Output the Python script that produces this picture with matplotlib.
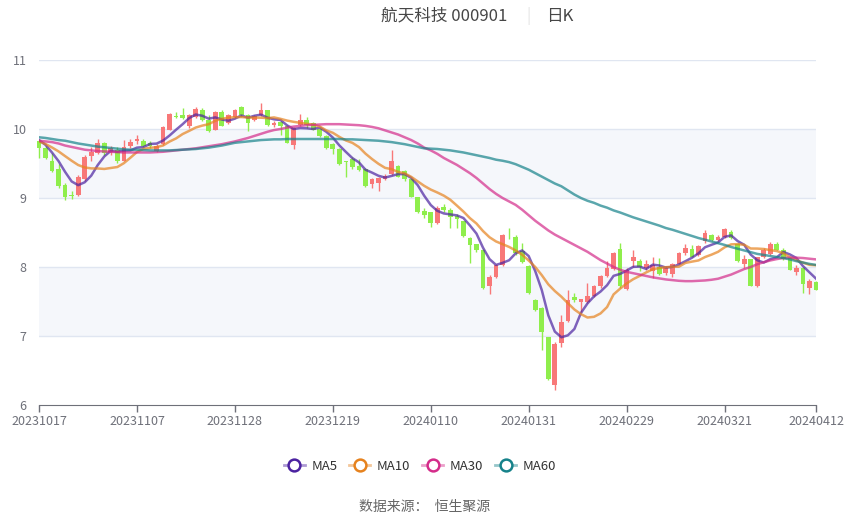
#!/usr/bin/env python
# daily K line of 000901 with MA5 / MA10 / MA30 / MA60

import numpy as np
import pandas as pd
import matplotlib
matplotlib.use('Agg')
import matplotlib.pyplot as plt
from matplotlib.lines import Line2D

plt.rcParams['font.family'] = ['Noto Sans CJK SC', 'DejaVu Sans']

title = '航天科技 000901'
period = '日K'
source = '数据来源：  恒生聚源'

# trading days: business days minus exchange holidays
holidays = ['2024-01-01', '2024-02-09', '2024-02-12', '2024-02-13', '2024-02-14',
            '2024-02-15', '2024-02-16', '2024-04-04', '2024-04-05']
days = pd.bdate_range('2023-10-17', '2024-04-12')
days = days[~days.isin(pd.to_datetime(holidays))]
dates = [d.strftime('%Y%m%d') for d in days]

opens = [9.82, 9.72, 9.53, 9.42, 9.19, 9.04, 9.04, 9.27, 9.61, 9.65,
         9.79, 9.66, 9.69, 9.54, 9.75, 9.82, 9.83, 9.80, 9.68, 9.78,
         9.99, 10.19, 10.20, 10.05, 10.18, 10.28, 10.13, 9.99, 10.25, 10.09,
         10.18, 10.32, 10.20, 10.13, 10.21, 10.27, 10.06, 10.10, 10.05, 9.77,
         10.06, 10.13, 10.09, 10.00, 9.90, 9.78, 9.71, 9.53, 9.56, 9.47,
         9.42, 9.21, 9.22, 9.27, 9.35, 9.47, 9.39, 9.28, 9.01, 8.81,
         8.79, 8.64, 8.87, 8.83, 8.74, 8.66, 8.42, 8.33, 8.25, 7.73,
         7.85, 8.03, 8.44, 8.44, 8.23, 8.02, 7.52, 7.40, 6.98, 6.29,
         6.90, 7.22, 7.56, 7.49, 7.49, 7.58, 7.72, 7.87, 7.97, 8.26,
         7.68, 8.08, 8.09, 7.99, 7.94, 8.00, 7.92, 7.90, 8.05, 8.20,
         8.26, 8.17, 8.37, 8.46, 8.39, 8.44, 8.51, 8.33, 8.05, 8.11,
         7.73, 8.15, 8.19, 8.33, 8.25, 8.13, 7.93, 7.98, 7.70, 7.78]
highs = [9.84, 9.75, 9.65, 9.50, 9.22, 9.10, 9.33, 9.62, 9.74, 9.86,
         9.81, 9.76, 9.74, 9.84, 9.85, 9.91, 9.85, 9.82, 9.78, 10.04,
         10.23, 10.24, 10.30, 10.22, 10.32, 10.30, 10.20, 10.26, 10.27, 10.22,
         10.29, 10.33, 10.22, 10.21, 10.37, 10.28, 10.12, 10.11, 10.06, 10.03,
         10.22, 10.18, 10.10, 10.01, 9.91, 9.79, 9.72, 9.54, 9.60, 9.57,
         9.43, 9.29, 9.30, 9.35, 9.70, 9.48, 9.40, 9.29, 9.02, 8.86,
         8.80, 8.88, 8.92, 8.85, 8.77, 8.67, 8.43, 8.34, 8.26, 7.88,
         8.04, 8.48, 8.57, 8.47, 8.35, 8.03, 7.54, 7.42, 6.99, 6.92,
         7.31, 7.67, 7.62, 7.54, 7.77, 7.74, 7.89, 8.08, 8.22, 8.35,
         7.98, 8.25, 8.12, 8.10, 8.14, 8.13, 8.02, 8.06, 8.22, 8.34,
         8.32, 8.32, 8.54, 8.48, 8.46, 8.57, 8.53, 8.35, 8.18, 8.12,
         8.15, 8.28, 8.36, 8.36, 8.28, 8.15, 8.03, 8.00, 7.82, 7.79]
lows = [9.58, 9.56, 9.37, 9.15, 8.97, 8.98, 9.03, 9.25, 9.54, 9.64,
        9.63, 9.62, 9.51, 9.53, 9.73, 9.78, 9.74, 9.72, 9.66, 9.77,
        9.98, 10.16, 10.15, 10.02, 10.16, 10.12, 9.96, 9.98, 10.04, 10.07,
        10.16, 10.18, 9.97, 10.11, 10.19, 10.05, 10.03, 9.92, 9.79, 9.71,
        10.04, 10.02, 9.98, 9.89, 9.71, 9.64, 9.48, 9.31, 9.42, 9.39,
        9.16, 9.14, 9.10, 9.26, 9.34, 9.30, 9.25, 9.01, 8.78, 8.71,
        8.58, 8.62, 8.80, 8.57, 8.56, 8.44, 8.06, 8.22, 7.68, 7.61,
        7.84, 8.02, 8.41, 8.18, 8.06, 7.61, 7.36, 6.80, 6.36, 6.22,
        6.84, 7.21, 7.49, 7.35, 7.48, 7.56, 7.70, 7.85, 7.96, 7.70,
        7.66, 8.00, 7.94, 7.95, 7.84, 7.88, 7.88, 7.85, 8.04, 8.18,
        8.14, 8.16, 8.35, 8.38, 8.38, 8.42, 8.40, 8.07, 7.99, 7.72,
        7.71, 8.13, 8.18, 8.24, 8.10, 7.95, 7.89, 7.63, 7.61, 7.66]
closes = [9.72, 9.58, 9.39, 9.18, 9.02, 9.03, 9.31, 9.60, 9.66, 9.79,
          9.65, 9.72, 9.53, 9.74, 9.81, 9.85, 9.76, 9.76, 9.76, 10.03,
          10.22, 10.18, 10.16, 10.20, 10.29, 10.13, 9.97, 10.25, 10.05, 10.20,
          10.28, 10.20, 10.09, 10.19, 10.28, 10.06, 10.08, 10.04, 9.80, 10.02,
          10.13, 10.06, 9.99, 9.90, 9.72, 9.71, 9.49, 9.52, 9.45, 9.41,
          9.18, 9.28, 9.29, 9.32, 9.53, 9.31, 9.28, 9.02, 8.79, 8.76,
          8.64, 8.86, 8.83, 8.72, 8.69, 8.45, 8.32, 8.24, 7.70, 7.86,
          8.03, 8.47, 8.43, 8.20, 8.07, 7.62, 7.38, 7.06, 6.37, 6.89,
          7.21, 7.52, 7.52, 7.53, 7.58, 7.72, 7.87, 7.98, 8.21, 7.72,
          7.96, 8.14, 8.00, 8.04, 8.03, 7.90, 7.99, 8.05, 8.21, 8.27,
          8.15, 8.31, 8.49, 8.39, 8.44, 8.55, 8.42, 8.08, 8.12, 7.73,
          8.14, 8.25, 8.33, 8.25, 8.12, 7.96, 7.99, 7.75, 7.79, 7.67]

# closes of the nine sessions before 20231017 (so MA5/MA10 start right)
prev_closes = [9.95, 9.90, 9.75, 9.70, 9.70, 9.93, 9.95, 9.80, 9.80]

ma30 = [9.83, 9.82, 9.81, 9.79, 9.76, 9.74, 9.72, 9.70, 9.69, 9.68,
        9.675, 9.67, 9.665, 9.66, 9.66, 9.66, 9.66, 9.66, 9.665, 9.67,
        9.68, 9.69, 9.70, 9.71, 9.72, 9.735, 9.75, 9.765, 9.78, 9.80,
        9.82, 9.845, 9.87, 9.90, 9.93, 9.96, 9.985, 10.00, 10.02, 10.035,
        10.045, 10.055, 10.06, 10.065, 10.07, 10.07, 10.07, 10.065, 10.06, 10.055,
        10.045, 10.03, 10.01, 9.98, 9.95, 9.92, 9.88, 9.84, 9.79, 9.73,
        9.69, 9.64, 9.58, 9.53, 9.48, 9.42, 9.36, 9.29, 9.21, 9.13,
        9.06, 9.00, 8.95, 8.90, 8.83, 8.75, 8.67, 8.60, 8.53, 8.47,
        8.42, 8.37, 8.32, 8.27, 8.22, 8.16, 8.10, 8.05, 8.00, 7.96,
        7.93, 7.91, 7.89, 7.87, 7.85, 7.835, 7.82, 7.81, 7.80, 7.795,
        7.795, 7.80, 7.805, 7.815, 7.83, 7.86, 7.89, 7.93, 7.97, 8.00,
        8.04, 8.07, 8.095, 8.115, 8.13, 8.135, 8.135, 8.13, 8.12, 8.11]
ma60 = [9.88, 9.87, 9.855, 9.84, 9.83, 9.81, 9.79, 9.775, 9.76, 9.745,
        9.735, 9.725, 9.715, 9.705, 9.70, 9.70, 9.695, 9.69, 9.69, 9.69,
        9.69, 9.695, 9.70, 9.705, 9.71, 9.72, 9.73, 9.745, 9.76, 9.78,
        9.80, 9.81, 9.82, 9.83, 9.84, 9.845, 9.85, 9.85, 9.855, 9.855,
        9.855, 9.855, 9.855, 9.855, 9.855, 9.855, 9.855, 9.85, 9.85, 9.845,
        9.84, 9.835, 9.83, 9.82, 9.81, 9.795, 9.78, 9.76, 9.74, 9.72,
        9.715, 9.71, 9.70, 9.69, 9.675, 9.66, 9.64, 9.62, 9.60, 9.58,
        9.555, 9.54, 9.52, 9.49, 9.45, 9.41, 9.36, 9.31, 9.26, 9.21,
        9.17, 9.11, 9.05, 9.00, 8.96, 8.93, 8.89, 8.86, 8.82, 8.79,
        8.755, 8.72, 8.69, 8.66, 8.63, 8.60, 8.565, 8.54, 8.51, 8.48,
        8.45, 8.42, 8.395, 8.37, 8.345, 8.32, 8.29, 8.265, 8.24, 8.215,
        8.19, 8.175, 8.16, 8.145, 8.13, 8.11, 8.085, 8.065, 8.045, 8.03]

up_color = '#f87878'
down_color = '#8fee4c'
ma_colors = {'MA5': '#4b22a0', 'MA10': '#e6821e', 'MA30': '#d42c8a', 'MA60': '#16828a'}
axis_gray = '#6e7079'


def moving_averages():
    s = pd.Series(prev_closes + closes)
    n = len(prev_closes)
    ma5 = s.rolling(5).mean().values[n:]
    ma10 = s.rolling(10).mean().values[n:]
    return {'MA5': ma5, 'MA10': ma10, 'MA30': np.array(ma30), 'MA60': np.array(ma60)}


def draw_candles(ax):
    x = np.arange(len(closes))
    o = np.array(opens)
    c = np.array(closes)
    colors = np.where(c >= o, up_color, down_color)
    ax.vlines(x, lows, highs, colors=colors, lw=1, zorder=3, clip_on=False)
    body = np.maximum(np.abs(c - o), 0.012)
    bottom = np.minimum(o, c)
    ax.bar(x, body, bottom=bottom, width=0.72, color=colors, lw=0, zorder=3, clip_on=False)


def main():
    fig = plt.figure(figsize=(8.5, 5.17), dpi=100)
    ax = fig.add_axes([39 / 850, 1 - 405 / 517, (816 - 39) / 850, 345 / 517])

    # alternating split areas
    ax.axhspan(9, 10, color='#f5f7fb', lw=0, zorder=0)
    ax.axhspan(7, 8, color='#f5f7fb', lw=0, zorder=0)
    for yv in [7, 8, 9, 10, 11]:
        ax.axhline(yv, color='#e0e6f1', lw=1, zorder=1)

    draw_candles(ax)

    mas = moving_averages()
    x = np.arange(len(closes))
    for name, vals in mas.items():
        ax.plot(x, vals, color=ma_colors[name], lw=1.8, alpha=0.7, zorder=4)

    ax.set_xlim(0, len(closes) - 1)
    ax.set_ylim(6, 11)
    ax.set_yticks([6, 7, 8, 9, 10, 11])
    ax.tick_params(axis='y', length=0, pad=9, labelsize=9, labelcolor=axis_gray)

    tick_idx = list(range(0, len(dates), 15))
    if tick_idx[-1] != len(dates) - 1:
        tick_idx.append(len(dates) - 1)
    ax.set_xticks(tick_idx)
    ax.set_xticklabels([dates[i] for i in tick_idx])
    ax.tick_params(axis='x', length=5, width=1, color=axis_gray, pad=2,
                   labelsize=9, labelcolor=axis_gray)

    for side in ['top', 'right', 'left']:
        ax.spines[side].set_visible(False)
    ax.spines['bottom'].set_color(axis_gray)
    ax.spines['bottom'].set_zorder(5)

    # title
    fig.text(444 / 850, 1 - 16 / 517, title, ha='center', va='center', fontsize=12, color='#464646')
    fig.text(528 / 850, 1 - 16 / 517, '|', ha='center', va='center', fontsize=11, color='#e4e4e4')
    fig.text(560 / 850, 1 - 16 / 517, period, ha='center', va='center', fontsize=12, color='#464646')

    # legend: light line with a solid ring on top
    handles = []
    for name, col in ma_colors.items():
        line = Line2D([0], [0], color=col, alpha=0.45, lw=2)
        ring = Line2D([0], [0], lw=0, marker='o', markersize=8.5,
                      markerfacecolor='white', markeredgecolor=col, markeredgewidth=1.8)
        handles.append((line, ring))
    fig.legend(handles, list(ma_colors.keys()), loc='center', bbox_to_anchor=(420 / 850, 1 - 466 / 517),
               ncol=4, frameon=False, fontsize=9.5, handlelength=1.6, handletextpad=0.5,
               columnspacing=0.9, labelcolor='#333333')

    fig.text(425 / 850, 1 - 507 / 517, source, ha='center', va='center', fontsize=10, color='#666666')

    fig.savefig('out.png', dpi=100)


if __name__ == '__main__':
    main()
